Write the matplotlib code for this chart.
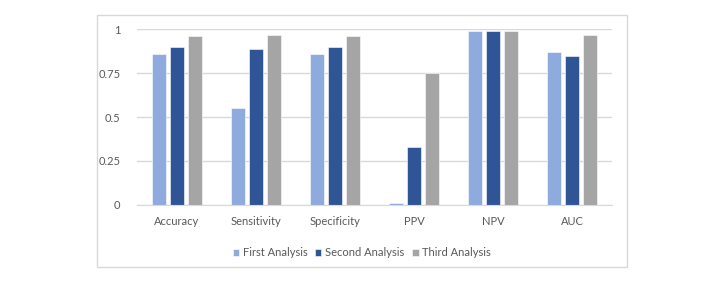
import numpy as np
import matplotlib.pyplot as plt
from matplotlib.patches import Rectangle

plt.rcParams['font.family'] = ['Lato', 'DejaVu Sans']

categories = ['Accuracy', 'Sensitivity', 'Specificity', 'PPV', 'NPV', 'AUC']
first = [0.86, 0.55, 0.86, 0.01, 0.99, 0.87]
second = [0.90, 0.89, 0.90, 0.33, 0.99, 0.85]
third = [0.96, 0.97, 0.96, 0.75, 0.99, 0.97]
series_names = ['First Analysis', 'Second Analysis', 'Third Analysis']
colors = ['#8FAADC', '#2F5597', '#A5A5A5']

fig = plt.figure(figsize=(7.25, 2.83), dpi=100)
fig.patches.append(Rectangle((97 / 725, 1 - 267 / 283), 530 / 725, 252 / 283,
                             transform=fig.transFigure, fill=False,
                             edgecolor='#D9D9D9', linewidth=1))
ax = fig.add_axes([137 / 725, 1 - 204.7 / 283, 475 / 725, 175.4 / 283])

x = np.arange(len(categories))
w = 0.177
step = 0.227
for i, vals in enumerate([first, second, third]):
    ax.bar(x + (i - 1) * step, vals, width=w, color=colors[i],
           edgecolor='white', linewidth=0.4, label=series_names[i],
           clip_on=False, zorder=3)

ax.set_xlim(-0.5, len(categories) - 0.5)
ax.set_ylim(0, 1)
ax.set_yticks([0, 0.25, 0.5, 0.75, 1])
ax.set_yticklabels(['0', '0.25', '0.5', '0.75', '1'])
ax.set_xticks(x)
ax.set_xticklabels(categories)
ax.tick_params(length=0, labelsize=8, colors='#595959', pad=8)
ax.tick_params(axis='y', pad=12)
ax.grid(axis='y', color='#D9D9D9', linewidth=1, zorder=0)
for s in ['top', 'left', 'right']:
    ax.spines[s].set_visible(False)
ax.spines['bottom'].set_color('#D9D9D9')
ax.spines['bottom'].set_zorder(4)

fig.legend(loc='center', bbox_to_anchor=(362 / 725, 1 - 253 / 283), ncol=3,
           frameon=False, fontsize=8, handlelength=0.55, handleheight=0.55,
           handletextpad=0.35, columnspacing=0.7, labelcolor='#595959')

fig.savefig('out.png', dpi=100)
